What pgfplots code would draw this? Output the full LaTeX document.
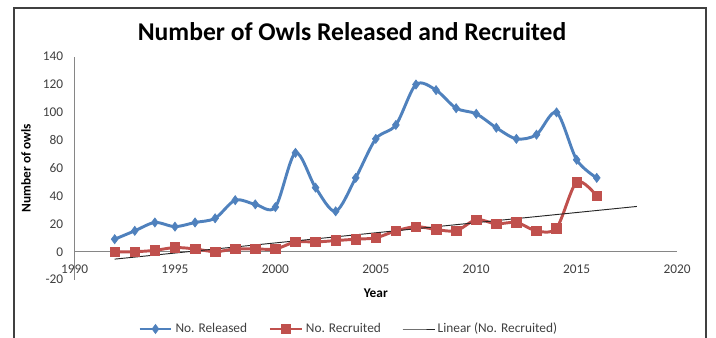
\documentclass[border=0pt]{standalone}
\usepackage{fontspec}
\setmainfont{Carlito}
\usepackage{pgfplots}
\pgfplotsset{compat=1.18}
\definecolor{rel}{HTML}{4F81BD}
\definecolor{rec}{HTML}{C0504D}
\definecolor{axgray}{HTML}{868686}
\definecolor{txt}{HTML}{404040}
\begin{document}
\begin{tikzpicture}
\useasboundingbox (0,0) rectangle (537pt,253.5pt);
\fill[white] (0,0) rectangle (537pt,253.5pt);
\draw[line width=1.3pt, black!75] (10.5pt,-2pt) -- (10.5pt,247.5pt) -- (529.5pt,247.5pt) -- (529.5pt,-2pt);
\begin{axis}[
  at={(55.9pt,43.8pt)}, anchor=south west,
  scale only axis, width=451.9pt, height=167.2pt,
  xmin=1990, xmax=2020, ymin=-20, ymax=140,
  axis x line=middle, axis y line=left,
  hide obscured x ticks=false, hide obscured y ticks=false,
  axis line style={-, axgray, line width=0.6pt},
  xtick={1990,1995,...,2020}, ytick={-20,0,...,140},
  major tick length=0pt,
  /pgf/number format/.cd, 1000 sep={}, assume math mode=true, /pgfplots/.cd,
  ticklabel style={font=\fontsize{10}{12}\selectfont, text=txt},
  xticklabel style={yshift=-6pt},
  yticklabel style={xshift=-5pt},
  xlabel={\textbf{Year}}, ylabel={\textbf{Number of owls}},
  label style={font=\fontsize{10}{12}\selectfont, text=black},
  xlabel style={at={(axis description cs:0.5,-0.060)}, anchor=center},
  ylabel style={at={(axis description cs:-0.0805,0.5)}, anchor=center, rotate=0},
  title={\textbf{Number of Owls Released and Recruited}},
  title style={at={(axis description cs:0.4606,1.075)}, anchor=center, font=\fontsize{19.2}{22}\selectfont, text=black},
  legend columns=-1,
  legend style={at={(axis description cs:0.105,-0.2216)}, anchor=west, draw=none, fill=none,
    font=\fontsize{10}{12}\selectfont, text=txt, inner sep=0pt,
    /tikz/every even column/.append style={column sep=14pt}},
  legend cell align=left,
  legend image code/.code={
    \draw[mark repeat=2,mark phase=2] plot coordinates {(0cm,0cm) (0.42cm,0cm) (0.84cm,0cm)};
  },
  clip=false,
]
\addplot[rel, line width=2.2pt, smooth, tension=0.5, mark=diamond*, mark size=3.4pt, mark options={solid, fill=rel, line width=0.5pt}]
coordinates {
(1992,9) (1993,15) (1994,21) (1995,18) (1996,21) (1997,24) (1998,37) (1999,34) (2000,32)
(2001,71) (2002,46) (2003,29) (2004,53) (2005,81) (2006,91) (2007,120) (2008,116) (2009,103)
(2010,99) (2011,89) (2012,81) (2013,84) (2014,100) (2015,66) (2016,53)
};
\addlegendentry{No. Released}
\addplot[rec, line width=2.2pt, smooth, tension=0.5, mark=square*, mark size=3.6pt, mark options={solid, fill=rec, line width=0.5pt}]
coordinates {
(1992,0) (1993,0) (1994,1) (1995,3) (1996,2) (1997,0) (1998,2) (1999,2) (2000,2)
(2001,7) (2002,7) (2003,8) (2004,9) (2005,10) (2006,15) (2007,18) (2008,16) (2009,15)
(2010,23) (2011,20) (2012,21) (2013,15) (2014,17) (2015,50) (2016,40)
};
\addlegendentry{No. Recruited}
\addplot[black!85, line width=0.7pt] coordinates {(1992,-5.3) (2018,32.5)};
\addlegendentry{Linear (No. Recruited)}
\end{axis}
\end{tikzpicture}
\end{document}
